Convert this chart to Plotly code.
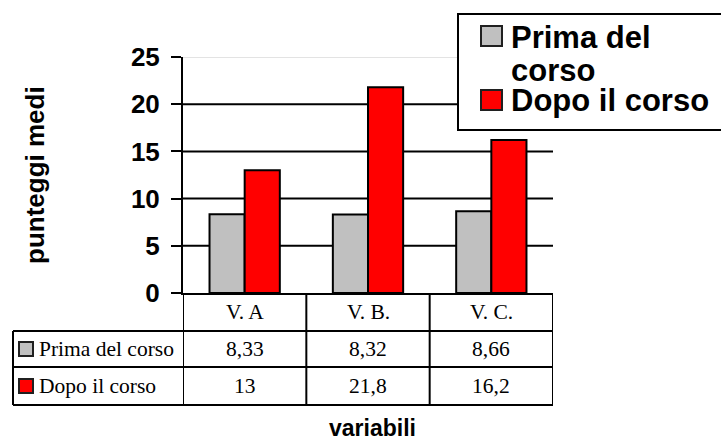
import plotly.graph_objects as go

# Data
categories = ["V. A", "V. B.", "V. C."]
series_names = ["Prima del corso", "Dopo il corso"]
prima = [8.33, 8.32, 8.66]
dopo = [13, 21.8, 16.2]
value_labels = [["8,33", "8,32", "8,66"], ["13", "21,8", "16,2"]]
y_ticks = [0, 5, 10, 15, 20, 25]
y_title = "punteggi medi"
x_title = "variabili"

W, H = 721, 442
PL, PR, PT, PB = 183, 553, 57, 293  # plot area in pixels
colors = ["#C0C0C0", "#FF0000"]


def px(x):
    return (x - PL) / (PR - PL)


def py(y):
    return (PB - y) / (PB - PT)


fig = go.Figure()
for name, vals, col in zip(series_names, [prima, dopo], colors):
    fig.add_trace(go.Bar(
        x=categories, y=vals, name=name, showlegend=False,
        marker=dict(color=col, line=dict(color="black", width=2)),
    ))

shapes = []
# horizontal gridlines
for v in y_ticks[1:-1]:
    shapes.append(dict(type="line", xref="paper", yref="y", x0=0, x1=1, y0=v, y1=v,
                       line=dict(color="black", width=2), layer="below"))
shapes.append(dict(type="line", xref="paper", yref="y", x0=0, x1=1, y0=y_ticks[-1], y1=y_ticks[-1],
                   line=dict(color="#C8C8C8", width=1), layer="below"))

# data table grid
row_lines = [331, 367, 405]
for yy in row_lines:
    shapes.append(dict(type="line", xref="paper", yref="paper", x0=px(13), x1=1,
                       y0=py(yy), y1=py(yy), line=dict(color="black", width=2)))
shapes.append(dict(type="line", xref="paper", yref="paper", x0=px(13), x1=px(13),
                   y0=py(331), y1=py(405), line=dict(color="black", width=2)))
for b in [-0.5, 0.5, 1.5, 2.5]:
    shapes.append(dict(type="line", xref="x", yref="paper", x0=b, x1=b,
                       y0=py(PB), y1=py(405), line=dict(color="black", width=2)))

annotations = []
table_font = dict(family="Liberation Serif", size=21.5, color="black")
for i, c in enumerate(categories):
    annotations.append(dict(x=i, y=py(312), xref="x", yref="paper", text=c,
                            showarrow=False, font=table_font, xanchor="center", yanchor="middle"))
row_centers = [349, 386]
for r, (name, col) in enumerate(zip(series_names, colors)):
    yc = row_centers[r]
    shapes.append(dict(type="rect", xref="paper", yref="paper",
                       x0=px(19), x1=px(33), y0=py(yc - 7), y1=py(yc + 7),
                       fillcolor=col, line=dict(color="#202020", width=2)))
    annotations.append(dict(x=px(37), y=py(yc), xref="paper", yref="paper", text=name,
                            showarrow=False, font=table_font, xanchor="left", yanchor="middle"))
    for i, lab in enumerate(value_labels[r]):
        annotations.append(dict(x=i, y=py(yc), xref="x", yref="paper", text=lab,
                                showarrow=False, font=table_font, xanchor="center", yanchor="middle"))

# legend box
shapes.append(dict(type="rect", xref="paper", yref="paper", x0=px(458), x1=px(740),
                   y0=py(14), y1=py(130), fillcolor="white", line=dict(color="black", width=2)))
legend_font = dict(family="Arial, Liberation Sans", size=31, color="black")
legend_rows = [(["Prima del", "corso"], 36, [37, 71]), ([series_names[1]], 100, [100])]
for (lines, sq, text_ys), col in zip(legend_rows, colors):
    shapes.append(dict(type="rect", xref="paper", yref="paper",
                       x0=px(481), x1=px(502), y0=py(sq - 10), y1=py(sq + 10),
                       fillcolor=col, line=dict(color="#202020", width=2)))
    for ln, ty in zip(lines, text_ys):
        annotations.append(dict(x=px(509), y=py(ty), xref="paper", yref="paper",
                                text="<b>%s</b>" % ln, showarrow=False, font=legend_font,
                                xanchor="left", yanchor="middle"))

# axis titles
annotations.append(dict(x=px(35), y=py(175), xref="paper", yref="paper", text="<b>%s</b>" % y_title,
                        textangle=-90, showarrow=False,
                        font=dict(family="Arial, Liberation Sans", size=26, color="black"),
                        xanchor="center", yanchor="middle"))
annotations.append(dict(x=px(372), y=py(428), xref="paper", yref="paper", text="<b>%s</b>" % x_title,
                        showarrow=False,
                        font=dict(family="Arial, Liberation Sans", size=23, color="black"),
                        xanchor="center", yanchor="middle"))

fig.update_layout(
    width=W, height=H,
    margin=dict(l=PL, r=W - PR, t=PT, b=H - PB, pad=0),
    paper_bgcolor="white", plot_bgcolor="white",
    barmode="group", bargap=0.43, bargroupgap=0,
    shapes=shapes, annotations=annotations,
    xaxis=dict(range=[-0.5, 2.5], showticklabels=False, ticks="", showgrid=False,
               showline=True, linecolor="black", linewidth=2, zeroline=False),
    yaxis=dict(range=[0, 25], tickvals=y_ticks, showgrid=False, zeroline=False,
               showline=True, linecolor="black", linewidth=2,
               ticks="outside", ticklen=10, tickwidth=2, tickcolor="black",
               ticklabelstandoff=6,
               tickfont=dict(family="Arial, Liberation Sans", size=26, color="black",
                             weight="bold")),
)

fig.write_html("out.html")
